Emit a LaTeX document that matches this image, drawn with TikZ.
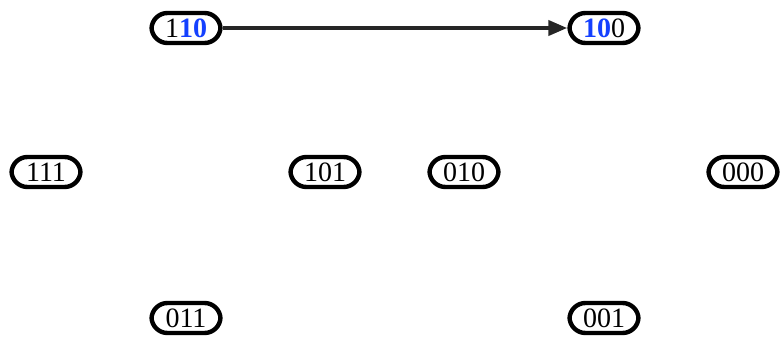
\documentclass[tikz,border=0pt]{standalone}
\usepackage{fontspec}
\setmainfont{Liberation Serif}
\usepackage{xcolor}
\usepackage{tikz}
\usetikzlibrary{arrows, arrows.meta, shadows}
\definecolor{bitblue}{rgb}{0.08,0.25,1}
\tikzstyle{state} = [rectangle, rounded corners=8pt, minimum width=34.5pt, minimum height=15pt, inner sep=1pt, text centered, line width=2.2pt, draw=black, fill=white, drop shadow={shadow xshift=0.8pt, shadow yshift=-0.8pt, opacity=0.35}, font=\fontsize{14}{16}\selectfont]
\tikzstyle{arrow} = [line width=2pt, draw=black!85, -{Triangle[length=9.5pt, width=7.5pt]}]
\newcommand{\hl}[1]{\textcolor{bitblue}{\textbf{#1}}}

\begin{document}
\begin{tikzpicture}[x=0.5pt, y=0.5pt]
        \useasboundingbox (0,0) rectangle (781,338);
        % top row
        \node (s110) [state] at (186,310) {1\hl{10}};
        \node (s100) [state] at (604,310) {\hl{10}0};
        % middle row
        \node (s111) [state] at (46,166) {111};
        \node (s101) [state] at (325,166) {101};
        \node (s010) [state] at (464,166) {010};
        \node (s000) [state] at (743,166) {000};
        % bottom row
        \node (s011) [state] at (186,20) {011};
        \node (s001) [state] at (604,20) {001};

        \draw [arrow] (s110) -- (s100);
    \end{tikzpicture}
\end{document}
